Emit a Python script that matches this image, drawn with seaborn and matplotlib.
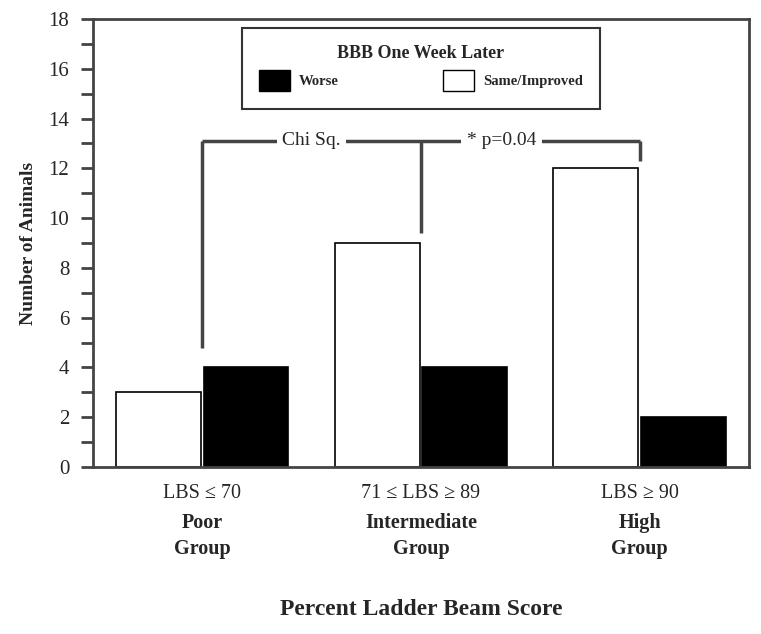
# BBB outcome one week later, grouped by ladder beam score
import matplotlib
matplotlib.use("Agg")
import matplotlib.pyplot as plt
from matplotlib.patches import Patch
from matplotlib.ticker import MultipleLocator
import pandas as pd
import seaborn as sns

# --- Data ---
TICK_LABELS = ["LBS \u2264 70", "71 \u2264 LBS \u2265 89", "LBS \u2265 90"]
GROUP_NAMES = ["Poor\nGroup", "Intermediate\nGroup", "High\nGroup"]
SERIES = ["Same/Improved", "Worse"]
SAME_IMPROVED = [3, 9, 12]
WORSE = [4, 4, 2]

# bracket: top level and the drop-down ends over each group
BRACKET_TOP = 13.1
BRACKET_ENDS = [4.8, 9.4, 12.3]
BRACKET_TEXT = ["Chi Sq.", "* p=0.04"]

df = pd.DataFrame({
    "group": TICK_LABELS * 2,
    "outcome": [SERIES[0]] * 3 + [SERIES[1]] * 3,
    "count": SAME_IMPROVED + WORSE,
})

sns.set_style("white")
plt.rcParams["font.family"] = ["Liberation Serif", "DejaVu Serif"]

fig = plt.figure(figsize=(7.61, 6.34), dpi=100)
ax = fig.add_axes([0.1222, 0.2634, 0.8618, 0.7066])

sns.barplot(data=df, x="group", y="count", hue="outcome", order=TICK_LABELS,
            hue_order=SERIES, palette={"Same/Improved": "white", "Worse": "black"},
            edgecolor="black", linewidth=1.2, width=0.8, gap=0.03, ax=ax, legend=False)

ax.set_xlim(-0.5, 2.5)
ax.set_ylim(0, 18)
ax.yaxis.set_major_locator(MultipleLocator(2))
ax.yaxis.set_minor_locator(MultipleLocator(1))
ax.tick_params(axis="y", which="both", left=True, direction="out", length=9,
               width=2, color="#444444", labelsize=15, pad=8)
ax.tick_params(axis="x", length=0, labelsize=14.5, pad=12)
for sp in ax.spines.values():
    sp.set_color("#444444")
    sp.set_linewidth(2)

ax.set_xlabel("")
ax.set_ylabel("Number of Animals", fontsize=14, fontweight="bold", labelpad=8)

# group names under tick labels
for i, name in enumerate(GROUP_NAMES):
    ax.text(i, -0.102, name, transform=ax.get_xaxis_transform(), ha="center", va="top",
            fontsize=14.5, fontweight="bold", linespacing=1.4)

fig.text(0.553, 0.038, "Percent Ladder Beam Score", ha="center", va="center",
         fontsize=17, fontweight="bold")

# significance bracket
bracket_col = "#444444"
ax.plot([0, 2], [BRACKET_TOP, BRACKET_TOP], color=bracket_col, lw=2.5, solid_capstyle="butt")
for i, end in enumerate(BRACKET_ENDS):
    ax.plot([i, i], [end, BRACKET_TOP], color=bracket_col, lw=2.5, solid_capstyle="butt")
for xpos, txt in zip([0.5, 1.37], BRACKET_TEXT):
    ax.text(xpos, BRACKET_TOP, txt, ha="center", va="center", fontsize=14,
            bbox=dict(facecolor="white", edgecolor="none", pad=4))

# legend: Worse first, then Same/Improved
handles = [Patch(facecolor="black", edgecolor="black", label="Worse"),
           Patch(facecolor="white", edgecolor="black", label="Same/Improved")]
leg = ax.legend(handles=handles, ncol=2, title="BBB One Week Later",
                loc="upper center", bbox_to_anchor=(0.5, 0.98), frameon=True,
                fancybox=False, edgecolor="black", prop={"weight": "bold", "size": 10.5},
                title_fontproperties={"weight": "bold", "size": 13},
                handlelength=2.1, handleheight=1.9, columnspacing=7.2,
                borderpad=1.2, handletextpad=0.6, borderaxespad=0)
leg.get_frame().set_linewidth(1.5)

fig.savefig("out.png", dpi=100)
